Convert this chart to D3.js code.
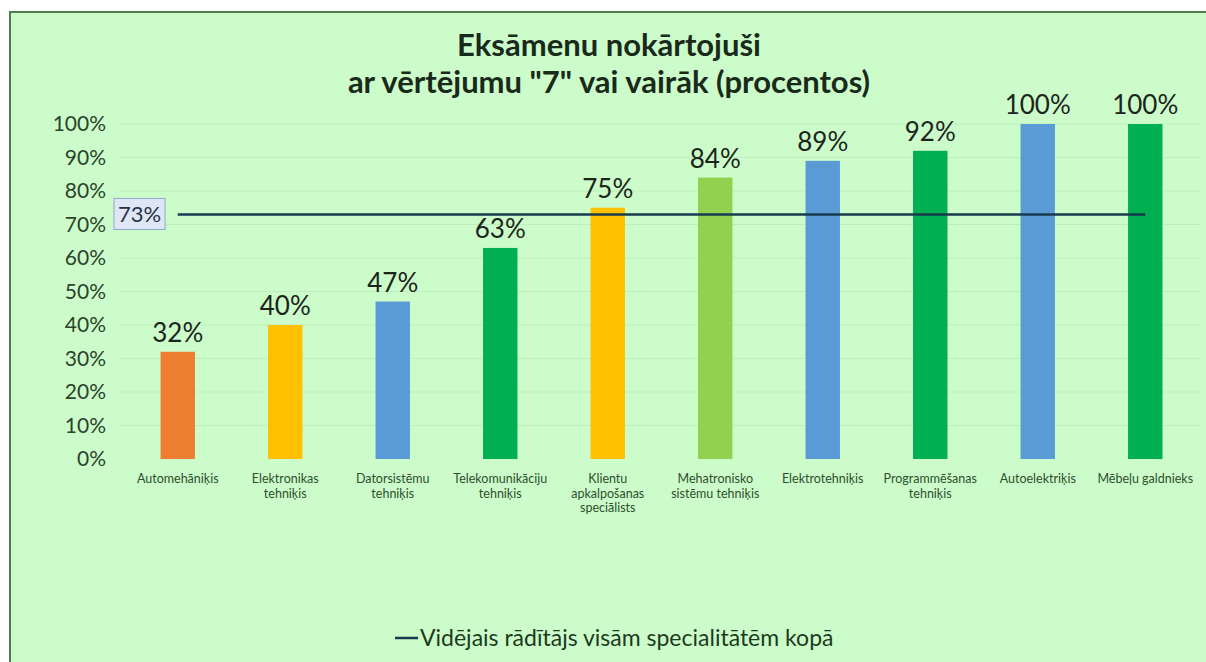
<!DOCTYPE html>
<html>
<head>
<meta charset="utf-8">
<script src="https://cdn.jsdelivr.net/npm/d3@7"></script>
<style>
  body { margin: 0; background: #fff; }
  svg { display: block; }
</style>
</head>
<body>
<div id="chart"></div>
<script>
// data
const categories = [
    ['Automehāniķis'],
    ['Elektronikas', 'tehniķis'],
    ['Datorsistēmu', 'tehniķis'],
    ['Telekomunikāciju', 'tehniķis'],
    ['Klientu', 'apkalpošanas', 'speciālists'],
    ['Mehatronisko', 'sistēmu tehniķis'],
    ['Elektrotehniķis'],
    ['Programmēšanas', 'tehniķis'],
    ['Autoelektriķis'],
    ['Mēbeļu galdnieks']
];
const values = [32, 40, 47, 63, 75, 84, 89, 92, 100, 100];
const barColors = ['#ed7d31', '#ffc000', '#5b9bd5', '#00b050', '#ffc000',
                   '#92d050', '#5b9bd5', '#00b050', '#5b9bd5', '#00b050'];
const average = 73;
const yTicks = [0, 10, 20, 30, 40, 50, 60, 70, 80, 90, 100];
const titleLines = ['Eksāmenu nokārtojuši', 'ar vērtējumu "7" vai vairāk (procentos)'];
const legendLabel = 'Vidējais rādītājs visām specialitātēm kopā';

let drawChart = function () {
    const w = 1206, h = 662;
    const font = 'Lato, "Open Sans", sans-serif';

    const svg = d3.select('#chart').append('svg')
        .attr('width', w)
        .attr('height', h);

    // chart area background + frame (right/bottom edges run off the page)
    svg.append('rect')
        .attr('x', 10).attr('y', 12)
        .attr('width', w + 20).attr('height', h)
        .attr('fill', '#cbfcc9')
        .attr('stroke', '#4f7d4f')
        .attr('stroke-width', 2);

    const x = d3.scaleBand()
        .domain(d3.range(categories.length))
        .range([124, 1199])
        .paddingInner(0.68)
        .paddingOuter(0.34);

    const y = d3.scaleLinear()
        .domain([0, 100])
        .range([459, 124]);

    // gridlines
    svg.append('g')
        .selectAll('line')
        .data(yTicks.slice(1))
        .enter()
        .append('line')
        .attr('x1', 120).attr('x2', 1200)
        .attr('y1', d => y(d)).attr('y2', d => y(d))
        .attr('stroke', '#bdeebb')
        .attr('stroke-width', 1);

    // y axis
    const yAxis = svg.append('g')
        .attr('transform', 'translate(106,0)')
        .call(d3.axisLeft(y).tickValues(yTicks).tickSize(0).tickPadding(0).tickFormat(d => d + '%'));
    yAxis.select('.domain').remove();
    yAxis.selectAll('text')
        .attr('font-family', font)
        .attr('font-size', 21)
        .attr('fill', '#2c432c');

    // bars
    svg.append('g')
        .selectAll('rect')
        .data(values)
        .enter()
        .append('rect')
        .attr('x', (d, i) => x(i))
        .attr('y', d => y(d))
        .attr('width', x.bandwidth())
        .attr('height', d => y(0) - y(d))
        .attr('fill', (d, i) => barColors[i]);

    // value labels
    svg.append('g')
        .selectAll('text')
        .data(values)
        .enter()
        .append('text')
        .attr('x', (d, i) => x(i) + x.bandwidth() / 2)
        .attr('y', d => y(d) - 10)
        .attr('text-anchor', 'middle')
        .attr('font-family', font)
        .attr('font-size', 26)
        .attr('fill', '#1c241c')
        .text(d => d + '%');

    // category labels
    const cat = svg.append('g')
        .selectAll('text')
        .data(categories)
        .enter()
        .append('text')
        .attr('x', (d, i) => x(i) + x.bandwidth() / 2)
        .attr('y', 483)
        .attr('text-anchor', 'middle')
        .attr('font-family', font)
        .attr('font-size', 12.5)
        .attr('fill', '#2f4f2f');
    cat.selectAll('tspan')
        .data(d => d)
        .enter()
        .append('tspan')
        .attr('x', function () { return d3.select(this.parentNode).attr('x'); })
        .attr('dy', (d, i) => i === 0 ? 0 : 14.5)
        .text(d => d);

    // average line
    const first = x(0) + x.bandwidth() / 2;
    const last = x(categories.length - 1) + x.bandwidth() / 2;
    svg.append('line')
        .attr('x1', first).attr('x2', last)
        .attr('y1', y(average)).attr('y2', y(average))
        .attr('stroke', '#173a4e')
        .attr('stroke-width', 2.5);

    // average label box
    svg.append('rect')
        .attr('x', 114).attr('y', y(average) - 16)
        .attr('width', 51).attr('height', 31)
        .attr('fill', '#dfe6f6')
        .attr('stroke', '#8fa6cc')
        .attr('stroke-width', 1);
    svg.append('text')
        .attr('x', 139.5).attr('y', y(average) + 8)
        .attr('text-anchor', 'middle')
        .attr('font-family', font)
        .attr('font-size', 22)
        .attr('fill', '#2a3344')
        .text(average + '%');

    // title
    svg.append('g')
        .selectAll('text')
        .data(titleLines)
        .enter()
        .append('text')
        .attr('x', 609)
        .attr('y', (d, i) => 56 + i * 37)
        .attr('text-anchor', 'middle')
        .attr('font-family', font)
        .attr('font-weight', 'bold')
        .attr('font-size', 31)
        .attr('fill', '#1a2a1a')
        .text(d => d);

    // legend
    svg.append('line')
        .attr('x1', 395).attr('x2', 418)
        .attr('y1', 638).attr('y2', 638)
        .attr('stroke', '#173a4e')
        .attr('stroke-width', 2.5);
    svg.append('text')
        .attr('x', 420).attr('y', 646)
        .attr('font-family', font)
        .attr('font-size', 23)
        .attr('fill', '#1e3a1e')
        .text(legendLabel);

    svg.node();
}

drawChart();
</script>
</body>
</html>
